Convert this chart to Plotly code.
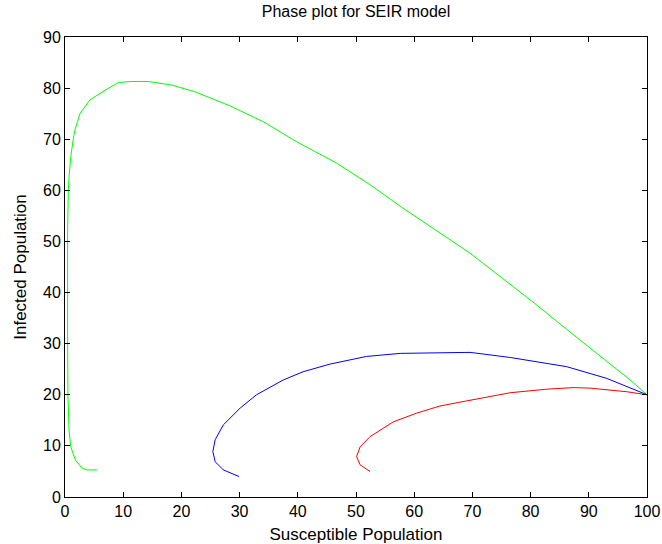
import plotly.graph_objects as go

# Trajectories in (Susceptible, Infected) phase space
green_S = [100, 97.1, 88.5, 79.9, 69.6, 62.7, 58.1, 52.4, 46.7, 39.8, 34.1, 28.4, 25.0, 22.3, 18.3, 14.3, 11.5, 9.2, 6.9, 4.3, 2.6, 1.7, 1.4, 1.0, 0.7, 0.57, 0.45, 0.4, 0.45, 0.5, 0.7, 1.0, 1.8, 2.9, 3.7, 5.5]
green_I = [20, 22.9, 30.7, 38.6, 47.7, 53.0, 56.5, 61.1, 65.3, 69.5, 73.4, 76.5, 78.0, 79.3, 80.6, 81.3, 81.3, 81.1, 79.6, 77.7, 75.1, 71.8, 69.9, 66.6, 62.7, 60, 52.3, 38.5, 30, 20, 13, 9.8, 7.2, 5.7, 5.3, 5.3]

blue_S = [100, 93.1, 86.2, 76.5, 69.6, 64.4, 58.7, 57.6, 51.8, 45.5, 40.9, 37.5, 32.9, 30.1, 27.2, 25.8, 25.4, 25.8, 27.2, 29.9]
blue_I = [20, 23.2, 25.5, 27.3, 28.3, 28.2, 28.1, 28.1, 27.5, 26.0, 24.5, 22.9, 20.0, 17.4, 14.1, 11.2, 8.9, 6.9, 5.3, 4.0]

red_S = [100, 96.5, 90.2, 87.3, 82.8, 76.5, 69, 64.4, 62.7, 60.4, 56.4, 52.4, 50.7, 50.1, 50.7, 52.4]
red_I = [20, 20.6, 21.3, 21.4, 21.1, 20.4, 18.8, 17.8, 17.2, 16.4, 14.7, 11.8, 9.8, 7.9, 6.3, 5.0]

x_ticks = list(range(0, 101, 10))
y_ticks = list(range(0, 91, 10))

fig = go.Figure()
for S, I, c in [(green_S, green_I, "#00ff00"), (blue_S, blue_I, "#0000ff"), (red_S, red_I, "#ff0000")]:
    fig.add_trace(go.Scatter(x=S, y=I, mode="lines", line=dict(color=c, width=1), showlegend=False))

fam = "Liberation Sans, Arial, sans-serif"
tick_font = dict(family=fam, color="black", size=16)
title_font = dict(family=fam, color="black", size=17)
axis_common = dict(showline=True, linecolor="black", linewidth=1, mirror="ticks",
                   ticks="inside", ticklen=5, tickcolor="black", showgrid=False,
                   zeroline=False, tickfont=tick_font, automargin=False)
fig.update_xaxes(range=[0, 100], tickvals=x_ticks,
                 title=dict(text="Susceptible Population", font=title_font, standoff=8), **axis_common)
fig.update_yaxes(range=[0, 90], tickvals=y_ticks,
                 title=dict(text="Infected Population", font=title_font, standoff=12), **axis_common)

fig.update_layout(
    width=662, height=544,
    margin=dict(l=65, r=15, t=37, b=47, autoexpand=False),
    plot_bgcolor="white", paper_bgcolor="white",
    title=dict(text="Phase plot for SEIR model", x=0.5, xanchor="center", xref="paper",
               y=1, yref="container", yanchor="top", pad=dict(t=6),
               font=dict(family=fam, size=16, color="black")),
)
fig.write_html("out.html")
